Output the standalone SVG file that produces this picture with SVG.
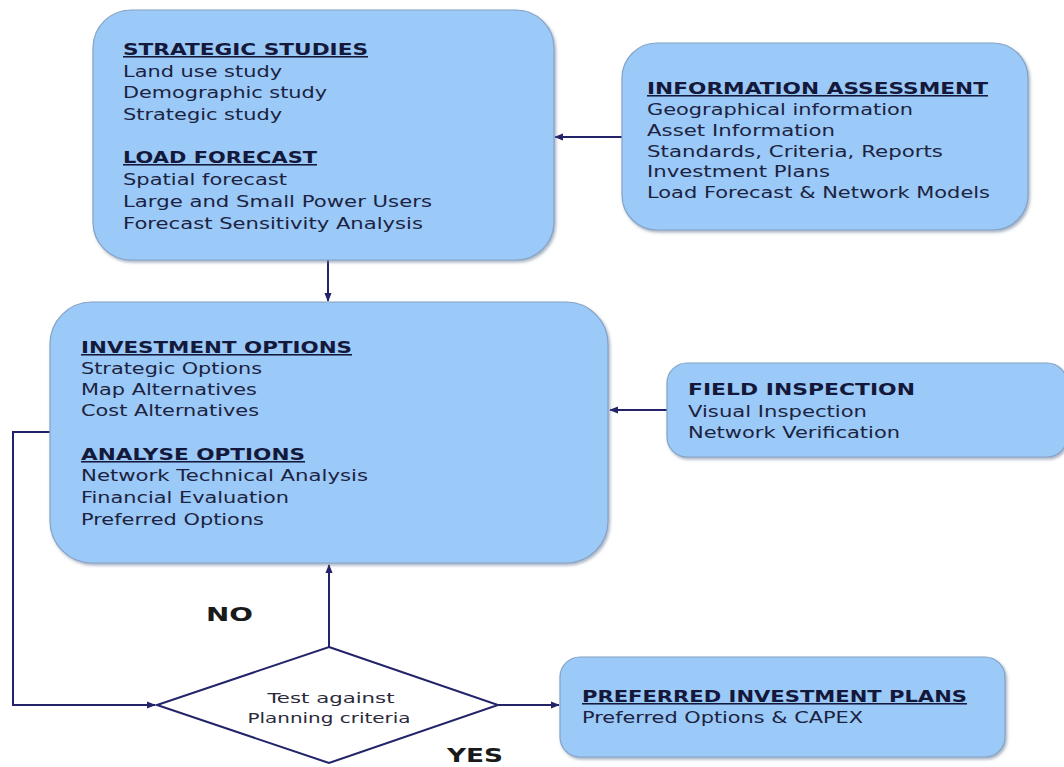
<svg xmlns="http://www.w3.org/2000/svg" width="1064" height="767" viewBox="0 0 1064 767">
<defs>
<marker id="ah" viewBox="0 0 10 10" refX="9" refY="5" markerWidth="9" markerHeight="9" markerUnits="userSpaceOnUse" orient="auto">
<path d="M0,1 L10,5 L0,9 z" fill="#23236a"/>
</marker>
<filter id="sh" x="-5%" y="-5%" width="110%" height="115%">
<feDropShadow dx="1.5" dy="2" stdDeviation="1.5" flood-color="#6a7f9a" flood-opacity="0.6"/>
</filter>
<style>
.box{fill:#9bc9f8;stroke:#86a3c6;stroke-width:1.2;filter:url(#sh)}
.t{font-family:"DejaVu Sans",Verdana,sans-serif;font-size:15.5px;fill:#1c2340}
.h{font-family:"DejaVu Sans",Verdana,sans-serif;font-size:15.5px;font-weight:bold;fill:#14183a;text-decoration:underline}
.hn{font-family:"DejaVu Sans",Verdana,sans-serif;font-size:15.5px;font-weight:bold;fill:#14183a}
.d{font-family:"DejaVu Sans",Verdana,sans-serif;font-size:14px;fill:#2a2a3a}
.lbl{font-family:"DejaVu Sans",Verdana,sans-serif;font-size:19px;font-weight:bold;fill:#1a1a1a}
.c{fill:none;stroke:#23236a;stroke-width:2}
</style>
</defs>
<rect width="1064" height="767" fill="#ffffff"/>

<g id="connectors">
<path class="c" d="M622,137 L555,137" marker-end="url(#ah)"/>
<path class="c" d="M328,260 L328,301" marker-end="url(#ah)"/>
<path class="c" d="M667,410 L610,410" marker-end="url(#ah)"/>
<path class="c" d="M329,647 L329,565" marker-end="url(#ah)"/>
<path class="c" d="M50,432 L13,432 L13,705 L155,705" marker-end="url(#ah)"/>
<path class="c" d="M498,705 L559,705" marker-end="url(#ah)"/>
</g>

<g id="strategic-studies">
<rect class="box" x="93" y="10" width="461" height="250" rx="38"/>
<text class="h" x="123" y="55" textLength="245" lengthAdjust="spacingAndGlyphs">STRATEGIC STUDIES</text>
<text class="t" x="123" y="77" textLength="159" lengthAdjust="spacingAndGlyphs">Land use study</text>
<text class="t" x="123" y="98" textLength="204" lengthAdjust="spacingAndGlyphs">Demographic study</text>
<text class="t" x="123" y="120" textLength="159" lengthAdjust="spacingAndGlyphs">Strategic study</text>
<text class="h" x="123" y="163" textLength="194" lengthAdjust="spacingAndGlyphs">LOAD FORECAST</text>
<text class="t" x="123" y="185" textLength="164" lengthAdjust="spacingAndGlyphs">Spatial forecast</text>
<text class="t" x="123" y="207" textLength="309" lengthAdjust="spacingAndGlyphs">Large and Small Power Users</text>
<text class="t" x="123" y="229" textLength="300" lengthAdjust="spacingAndGlyphs">Forecast Sensitivity Analysis</text>
</g>

<g id="information-assessment">
<rect class="box" x="622" y="43" width="406" height="187" rx="35"/>
<text class="h" x="647" y="94" textLength="341" lengthAdjust="spacingAndGlyphs">INFORMATION ASSESSMENT</text>
<text class="t" x="647" y="115" textLength="266" lengthAdjust="spacingAndGlyphs">Geographical information</text>
<text class="t" x="647" y="136" textLength="188" lengthAdjust="spacingAndGlyphs">Asset Information</text>
<text class="t" x="647" y="157" textLength="296" lengthAdjust="spacingAndGlyphs">Standards, Criteria, Reports</text>
<text class="t" x="647" y="177" textLength="183" lengthAdjust="spacingAndGlyphs">Investment Plans</text>
<text class="t" x="647" y="198" textLength="343" lengthAdjust="spacingAndGlyphs">Load Forecast &amp; Network Models</text>
</g>

<g id="investment-options">
<rect class="box" x="50" y="302" width="558" height="261" rx="42"/>
<text class="h" x="81" y="353" textLength="271" lengthAdjust="spacingAndGlyphs">INVESTMENT OPTIONS</text>
<text class="t" x="81" y="374" textLength="181" lengthAdjust="spacingAndGlyphs">Strategic Options</text>
<text class="t" x="81" y="395" textLength="176" lengthAdjust="spacingAndGlyphs">Map Alternatives</text>
<text class="t" x="81" y="416" textLength="178" lengthAdjust="spacingAndGlyphs">Cost Alternatives</text>
<text class="h" x="81" y="460" textLength="224" lengthAdjust="spacingAndGlyphs">ANALYSE OPTIONS</text>
<text class="t" x="81" y="481" textLength="287" lengthAdjust="spacingAndGlyphs">Network Technical Analysis</text>
<text class="t" x="81" y="503" textLength="208" lengthAdjust="spacingAndGlyphs">Financial Evaluation</text>
<text class="t" x="81" y="525" textLength="183" lengthAdjust="spacingAndGlyphs">Preferred Options</text>
</g>

<g id="field-inspection">
<rect class="box" x="667" y="363" width="400" height="94" rx="20"/>
<text class="hn" x="688" y="395" textLength="227" lengthAdjust="spacingAndGlyphs">FIELD INSPECTION</text>
<text class="t" x="688" y="417" textLength="179" lengthAdjust="spacingAndGlyphs">Visual Inspection</text>
<text class="t" x="688" y="438" textLength="212" lengthAdjust="spacingAndGlyphs">Network Verification</text>
</g>

<g id="decision">
<polygon points="329,647 498,705 329,763 157,705" fill="#ffffff" stroke="#23236a" stroke-width="2"/>
<text class="d" x="331" y="703" text-anchor="middle" textLength="127" lengthAdjust="spacingAndGlyphs">Test against</text>
<text class="d" x="329" y="723" text-anchor="middle" textLength="163" lengthAdjust="spacingAndGlyphs">Planning criteria</text>
</g>

<g id="labels">
<text class="lbl" x="206" y="621" textLength="47" lengthAdjust="spacingAndGlyphs">NO</text>
<text class="lbl" x="447" y="762" textLength="56" lengthAdjust="spacingAndGlyphs">YES</text>
</g>

<g id="preferred-investment-plans">
<rect class="box" x="560" y="657" width="445" height="100" rx="20"/>
<text class="h" x="582" y="702" textLength="385" lengthAdjust="spacingAndGlyphs">PREFERRED INVESTMENT PLANS</text>
<text class="t" x="582" y="723" textLength="281" lengthAdjust="spacingAndGlyphs">Preferred Options &amp; CAPEX</text>
</g>
</svg>
